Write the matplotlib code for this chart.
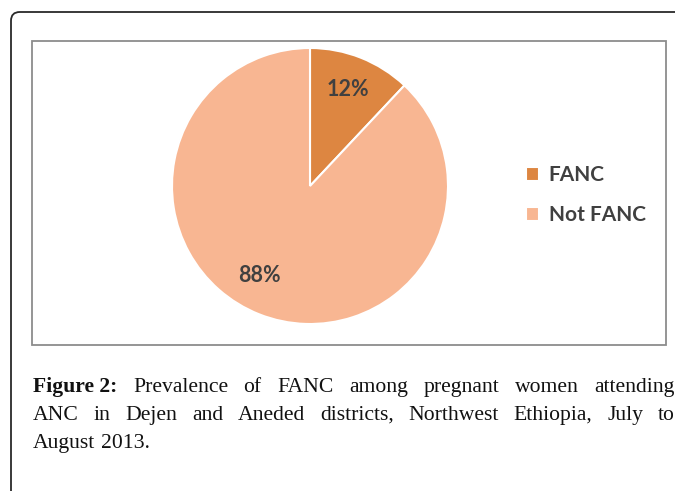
import matplotlib
matplotlib.use("Agg")
import matplotlib.pyplot as plt
from matplotlib.patches import FancyBboxPatch, Rectangle
import numpy as np

categories = ["FANC", "Not FANC"]
values = [12, 88]
colors = ["#DD8641", "#F8B692"]
caption_lines = [
    [("Figure 2:", True), ("Prevalence", False), ("of", False), ("FANC", False), ("among", False),
     ("pregnant", False), ("women", False), ("attending", False)],
    [("ANC", False), ("in", False), ("Dejen", False), ("and", False), ("Aneded", False),
     ("districts,", False), ("Northwest", False), ("Ethiopia,", False), ("July", False), ("to", False)],
    [("August", False), ("2013.", False)],
]

W, H = 675, 491
fig = plt.figure(figsize=(W / 100, H / 100), dpi=100)

def fx(x):
    return x / W

def fy(y):
    return 1 - y / H

# outer rounded frame
outer = FancyBboxPatch((fx(11), fy(500)), fx(700), fy(12) - fy(500),
                       boxstyle="round,pad=0,rounding_size=0.013",
                       transform=fig.transFigure, fill=False, edgecolor="#2a2a2a",
                       linewidth=1.3, mutation_aspect=W / H)
fig.patches.append(outer)

# inner chart box
inner = Rectangle((fx(32), fy(345)), fx(666) - fx(32), fy(41) - fy(345),
                  transform=fig.transFigure, fill=False, edgecolor="#8c8c8c", linewidth=1.3)
fig.patches.append(inner)

# pie
cx, cy, r = 310, 186, 138
ax = fig.add_axes([fx(cx - r), fy(cy + r), 2 * r / W, 2 * r / H])
wedges, texts, autotexts = ax.pie(values, colors=colors, startangle=90, counterclock=False,
                                  autopct="%d%%", pctdistance=0.75,
                                  wedgeprops=dict(edgecolor="white", linewidth=1.5),
                                  textprops=dict(fontfamily="Lato", fontweight="bold",
                                                 fontsize=15.5, color="#404040"))
ax.set_xlim(-1, 1)
ax.set_ylim(-1, 1)
ax.set_aspect("equal")
ax.axis("off")
# Excel-style placement of the large slice label
autotexts[1].set_position(((259 - cx) / r, (cy - 276) / r))

leg = fig.legend(wedges, categories, loc="center left",
                 bbox_to_anchor=(fx(507), fy(195)), frameon=False,
                 prop=dict(family="Lato", weight="bold", size=15),
                 handlelength=0.65, handleheight=0.65, handletextpad=0.45,
                 labelspacing=0.95)
for t in leg.get_texts():
    t.set_color("#404040")

# justified caption
fig.canvas.draw()
renderer = fig.canvas.get_renderer()
left, right = 33, 675
baselines = [392, 420, 448]
fs = 15.6
for li, (words, base) in enumerate(zip(caption_lines, baselines)):
    objs = []
    for w, bold in words:
        t = fig.text(0, fy(base), w, fontfamily="Liberation Serif", fontsize=fs,
                     fontweight="bold" if bold else "normal", color="#111111",
                     va="baseline", ha="left")
        objs.append(t)
    widths = [o.get_window_extent(renderer).width for o in objs]
    last = li == len(caption_lines) - 1
    if last:
        gap = fs * 0.25 * 100 / 72
    else:
        gap = (right - left - sum(widths)) / (len(objs) - 1)
    x = left
    for o, wd in zip(objs, widths):
        o.set_x(fx(x))
        x += wd + gap

fig.savefig("out.png", dpi=100)
